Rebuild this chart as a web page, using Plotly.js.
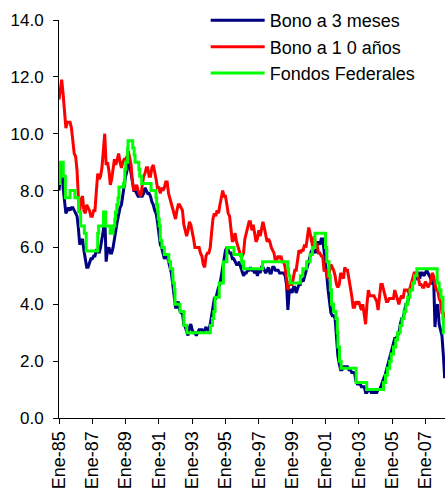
<!DOCTYPE html>
<html>
<head>
<meta charset="utf-8">
<script src="https://cdn.plot.ly/plotly-3.0.1.min.js"></script>
<style>html,body{margin:0;padding:0;background:#fff;}#chart{width:445px;height:491px;}</style>
</head>
<body>
<div id="chart"></div>
<script>
// Monthly values, starting January 1985
const startYear = 1985;
const bono3m = [
  8.0, 8.6, 9.0, 8.1, 7.6, 7.2, 7.3, 7.4, 7.3, 7.4, 7.4, 7.3,   // 1985
  7.2, 7.1, 6.7, 6.1, 6.2, 6.3, 5.9, 5.6, 5.3, 5.3, 5.5, 5.6,   // 1986
  5.6, 5.7, 5.7, 5.9, 5.9, 5.8, 6.0, 6.3, 6.6, 7.2, 5.5, 5.9,   // 1987
  6.0, 5.8, 5.8, 6.0, 6.4, 6.6, 6.9, 7.2, 7.4, 7.5, 7.9, 8.3,   // 1988
  8.5, 8.7, 9.1, 8.9, 8.6, 8.3, 8.0, 8.0, 7.9, 7.8, 7.8, 7.8,   // 1989
  7.8, 7.9, 8.1, 8.0, 7.9, 7.9, 7.8, 7.6, 7.5, 7.3, 7.2, 6.9,   // 1990
  6.4, 6.1, 6.0, 5.8, 5.6, 5.7, 5.7, 5.5, 5.3, 5.1, 4.7, 4.2,   // 1991
  3.9, 3.9, 4.1, 3.8, 3.7, 3.7, 3.3, 3.2, 3.0, 2.9, 3.2, 3.3,   // 1992
  3.1, 3.0, 3.0, 2.9, 3.0, 3.1, 3.1, 3.1, 3.0, 3.1, 3.2, 3.1,   // 1993
  3.1, 3.3, 3.6, 3.8, 4.2, 4.2, 4.4, 4.6, 4.7, 5.0, 5.4, 5.7,   // 1994
  5.9, 6.0, 5.9, 5.8, 5.8, 5.6, 5.6, 5.5, 5.4, 5.4, 5.5, 5.3,   // 1995
  5.1, 5.0, 5.1, 5.1, 5.2, 5.2, 5.3, 5.2, 5.2, 5.1, 5.2, 5.0,   // 1996
  5.2, 5.1, 5.3, 5.3, 5.2, 5.1, 5.2, 5.3, 5.1, 5.1, 5.3, 5.3,   // 1997
  5.2, 5.2, 5.2, 5.1, 5.1, 5.1, 5.1, 5.0, 4.7, 3.8, 4.5, 4.5,   // 1998
  4.4, 4.6, 4.6, 4.4, 4.6, 4.7, 4.7, 4.9, 4.8, 5.0, 5.2, 5.3,   // 1999
  5.5, 5.7, 5.9, 5.8, 5.9, 5.8, 6.1, 6.2, 6.1, 6.3, 6.3, 5.9,   // 2000
  5.3, 5.0, 4.5, 4.0, 3.7, 3.6, 3.6, 3.5, 2.8, 2.2, 1.9, 1.7,   // 2001
  1.7, 1.8, 1.8, 1.8, 1.8, 1.7, 1.7, 1.6, 1.6, 1.6, 1.3, 1.2,   // 2002
  1.2, 1.2, 1.1, 1.1, 1.1, 0.9, 0.9, 1.0, 1.0, 0.9, 0.9, 0.9,   // 2003
  0.9, 0.9, 1.0, 1.0, 1.1, 1.3, 1.4, 1.5, 1.7, 1.8, 2.1, 2.2,   // 2004
  2.4, 2.6, 2.8, 2.8, 2.9, 3.0, 3.3, 3.5, 3.5, 3.8, 4.0, 4.0,   // 2005
  4.3, 4.5, 4.6, 4.7, 4.8, 4.9, 5.1, 5.1, 4.9, 5.1, 5.1, 5.0,   // 2006
  5.1, 5.2, 5.1, 5.0, 4.9, 4.7, 5.0, 3.2, 3.9, 4.0, 3.3, 3.1,   // 2007
  2.9, 2.2, 1.4                                                 // 2008
];
const bono10 = [
  11.2, 11.6, 11.9, 11.4, 10.8, 10.2, 10.4, 10.4, 10.4, 10.2, 9.8, 9.3, // 1985
  9.2, 8.7, 7.8, 7.3, 7.7, 7.8, 7.3, 7.2, 7.5, 7.4, 7.3, 7.1,   // 1986
  7.1, 7.3, 7.3, 8.0, 8.6, 8.4, 8.5, 8.8, 9.4, 10.0, 8.9, 9.0,  // 1987
  8.7, 8.2, 8.4, 8.7, 9.1, 8.9, 9.1, 9.3, 9.0, 8.8, 9.0, 9.1,   // 1988
  9.1, 9.2, 9.4, 9.2, 8.9, 8.3, 8.0, 8.1, 8.2, 8.0, 7.9, 7.8,   // 1989
  8.2, 8.5, 8.6, 8.8, 8.8, 8.5, 8.5, 8.8, 8.9, 8.7, 8.4, 8.1,   // 1990
  8.1, 7.9, 8.1, 8.0, 8.1, 8.3, 8.3, 7.9, 7.7, 7.5, 7.4, 7.1,   // 1991
  7.0, 7.3, 7.5, 7.5, 7.4, 7.3, 6.8, 6.6, 6.4, 6.6, 6.9, 6.8,   // 1992
  6.6, 6.3, 6.0, 6.0, 6.0, 6.0, 5.8, 5.7, 5.4, 5.3, 5.7, 5.8,   // 1993
  5.8, 6.0, 6.5, 7.0, 7.2, 7.1, 7.3, 7.2, 7.5, 7.7, 8.0, 7.8,   // 1994
  7.8, 7.5, 7.2, 7.1, 6.6, 6.2, 6.3, 6.5, 6.2, 6.0, 5.9, 5.7,   // 1995
  5.7, 5.8, 6.3, 6.5, 6.7, 6.9, 6.9, 6.6, 6.8, 6.5, 6.2, 6.3,   // 1996
  6.6, 6.4, 6.7, 6.9, 6.7, 6.5, 6.2, 6.3, 6.2, 6.0, 5.9, 5.8,   // 1997
  5.5, 5.6, 5.7, 5.6, 5.7, 5.5, 5.5, 5.3, 4.8, 4.5, 4.8, 4.7,   // 1998
  4.7, 5.0, 5.2, 5.2, 5.5, 5.9, 5.8, 5.9, 5.9, 6.1, 6.0, 6.3,   // 1999
  6.7, 6.5, 6.3, 6.0, 6.4, 6.1, 6.1, 5.8, 5.8, 5.7, 5.7, 5.2,   // 2000
  5.2, 5.1, 4.9, 5.1, 5.4, 5.3, 5.2, 5.0, 4.7, 4.6, 4.7, 5.1,   // 2001
  5.0, 4.9, 5.3, 5.2, 5.2, 4.9, 4.7, 4.3, 3.9, 3.9, 4.1, 4.0,   // 2002
  4.1, 3.9, 3.8, 4.0, 3.6, 3.3, 4.0, 4.5, 4.3, 4.3, 4.3, 4.3,   // 2003
  4.2, 4.1, 3.8, 4.4, 4.7, 4.7, 4.5, 4.3, 4.1, 4.1, 4.2, 4.2,   // 2004
  4.2, 4.2, 4.5, 4.3, 4.1, 4.0, 4.2, 4.3, 4.2, 4.5, 4.5, 4.5,   // 2005
  4.4, 4.6, 4.7, 5.0, 5.1, 5.1, 5.1, 4.9, 4.7, 4.7, 4.6, 4.6,   // 2006
  4.8, 4.7, 4.6, 4.7, 4.8, 5.1, 5.0, 4.7, 4.5, 4.5, 4.2, 4.1,   // 2007
  3.7, 3.7, 3.5                                                 // 2008
];
// Federal funds target: date of each change and new level
const fedDates = [
  '1985-01-01','1985-01-25','1985-04-05','1985-05-20','1985-09-01','1985-12-15',
  '1986-03-07','1986-04-21','1986-07-11','1986-08-21','1987-04-30','1987-05-20',
  '1987-09-04','1987-10-22','1988-01-28','1988-03-30','1988-05-09','1988-05-25',
  '1988-06-22','1988-07-19','1988-08-09','1988-11-17','1988-12-15','1989-01-05',
  '1989-02-14','1989-02-24','1989-06-06','1989-07-07','1989-07-27','1989-10-18',
  '1989-11-06','1989-12-20','1990-07-13','1990-10-29','1990-11-13','1990-12-07',
  '1990-12-19','1991-01-09','1991-02-01','1991-03-08','1991-04-30','1991-08-06',
  '1991-09-13','1991-10-31','1991-11-06','1991-12-06','1991-12-20','1992-04-09',
  '1992-07-02','1992-09-04','1994-02-04','1994-03-22','1994-04-18','1994-05-17',
  '1994-08-16','1994-11-15','1995-02-01','1995-07-06','1995-12-19','1996-01-31',
  '1997-03-25','1998-09-29','1998-10-15','1998-11-17','1999-06-30','1999-08-24',
  '1999-11-16','2000-02-02','2000-03-21','2000-05-16','2001-01-03','2001-01-31',
  '2001-03-20','2001-04-18','2001-05-15','2001-06-27','2001-08-21','2001-09-17',
  '2001-10-02','2001-11-06','2001-12-11','2002-11-06','2003-06-25','2004-06-30',
  '2004-08-10','2004-09-21','2004-11-10','2004-12-14','2005-02-02','2005-03-22',
  '2005-05-03','2005-06-30','2005-08-09','2005-09-20','2005-11-01','2005-12-13',
  '2006-01-31','2006-03-28','2006-05-10','2006-06-29','2007-09-18','2007-10-31',
  '2007-12-11','2008-01-22','2008-01-30','2008-03-01'
];
const fedRates = [
  8.25, 9.0, 8.5, 7.75, 8.0, 7.75,
  7.25, 6.75, 6.5, 5.875, 6.5, 6.75,
  7.25, 6.75, 6.5, 6.75, 7.0, 7.25,
  7.5, 7.75, 8.125, 8.25, 8.75, 9.0,
  9.5, 9.75, 9.5, 9.25, 9.0, 8.75,
  8.5, 8.25, 8.0, 7.75, 7.5, 7.25,
  7.0, 6.75, 6.25, 6.0, 5.75, 5.5,
  5.25, 5.0, 4.75, 4.5, 4.0, 3.75,
  3.25, 3.0, 3.25, 3.5, 3.75, 4.25,
  4.75, 5.5, 6.0, 5.75, 5.5, 5.25,
  5.5, 5.25, 5.0, 4.75, 5.0, 5.25,
  5.5, 5.75, 6.0, 6.5, 6.0, 5.5,
  5.0, 4.5, 4.0, 3.75, 3.5, 3.0,
  2.5, 2.0, 1.75, 1.25, 1.0, 1.25,
  1.5, 1.75, 2.0, 2.25, 2.5, 2.75,
  3.0, 3.25, 3.5, 3.75, 4.0, 4.25,
  4.5, 4.75, 5.0, 5.25, 4.75, 4.5,
  4.25, 3.5, 3.0, 3.0
];
const tickDates = ['1985-01-01','1987-01-01','1989-01-01','1991-01-01','1993-01-01','1995-01-01',
                   '1997-01-01','1999-01-01','2001-01-01','2003-01-01','2005-01-01','2007-01-01'];
const tickLabels = ['Ene-85','Ene-87','Ene-89','Ene-91','Ene-93','Ene-95',
                    'Ene-97','Ene-99','Ene-01','Ene-03','Ene-05','Ene-07'];
const seriesNames = ['Bono a 3 meses', 'Bono a 1 0 años', 'Fondos Federales'];

const months = bono3m.map((_, i) =>
  (startYear + Math.floor(i / 12)) + '-' + String(i % 12 + 1).padStart(2, '0') + '-01');

const fam = 'Arial, "Liberation Sans", sans-serif';
const yFont = {family: fam, size: 17, color: '#000'};
const xFont = {family: fam, size: 18, color: '#000'};
const legFont = {family: fam, size: 18, color: '#000'};

const traces = [
  {x: months, y: bono3m, name: seriesNames[0], type: 'scatter', mode: 'lines',
   line: {color: '#000080', width: 3}},
  {x: months, y: bono10, name: seriesNames[1], type: 'scatter', mode: 'lines',
   line: {color: '#FF0000', width: 3}},
  {x: fedDates, y: fedRates, name: seriesNames[2], type: 'scatter', mode: 'lines',
   line: {color: '#00FF00', width: 3, shape: 'hv'}}
];

const layout = {
  width: 445, height: 491,
  margin: {l: 59, r: 0, t: 20, b: 73, pad: 0},
  paper_bgcolor: '#fff', plot_bgcolor: '#fff',
  font: legFont,
  showlegend: true,
  legend: {x: 0.38, y: 1.045, xanchor: 'left', yanchor: 'top', bgcolor: 'rgba(0,0,0,0)',
           font: legFont, tracegroupgap: 0, itemwidth: 54},
  xaxis: {
    type: 'date', range: ['1985-01-01', '2008-03-08'],
    tickmode: 'array', tickvals: tickDates, ticktext: tickLabels, tickangle: -90,
    ticks: 'outside', ticklen: 5, tickcolor: '#000', tickwidth: 1,
    showline: true, linecolor: '#000', linewidth: 1,
    showgrid: false, zeroline: false, tickfont: xFont, fixedrange: true
  },
  yaxis: {
    range: [0, 14], tick0: 0, dtick: 2, tickformat: '.1f',
    ticks: 'outside', ticklen: 5, tickcolor: '#000', tickwidth: 1,
    showline: true, linecolor: '#000', linewidth: 1,
    showgrid: false, zeroline: false, tickfont: yFont, fixedrange: true,
    ticklabelstandoff: 6
  }
};

Plotly.newPlot('chart', traces, layout, {staticPlot: true, displayModeBar: false});
</script>
</body>
</html>
